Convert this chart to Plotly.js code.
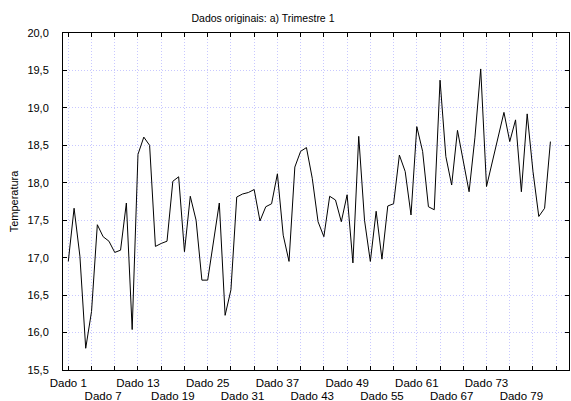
<!DOCTYPE html>
<html>
<head>
<meta charset="utf-8">
<script src="https://cdn.plot.ly/plotly-3.0.1.min.js"></script>
<style>html,body{margin:0;padding:0;background:#fff;}#chart{width:571px;height:401px;}</style>
</head>
<body>
<div id="chart"></div>
<script>
// Temperature values, Dado 1 .. Dado 84
const temperatura = [
  16.95, 17.66, 17.02, 15.79, 16.28, 17.44, 17.28, 17.22, 17.07, 17.10,
  17.73, 16.04, 18.38, 18.61, 18.50, 17.15, 17.19, 17.22, 18.02, 18.08,
  17.08, 17.82, 17.50, 16.70, 16.70, 17.24, 17.73, 16.23, 16.57, 17.81,
  17.85, 17.87, 17.91, 17.49, 17.68, 17.72, 18.12, 17.30, 16.95, 18.21,
  18.42, 18.47, 18.06, 17.48, 17.28, 17.82, 17.77, 17.48, 17.84, 16.93,
  18.62, 17.50, 16.95, 17.62, 16.98, 17.69, 17.72, 18.37, 18.15, 17.57,
  18.75, 18.42, 17.68, 17.64, 19.37, 18.35, 17.97, 18.70, 18.30, 17.88,
  18.60, 19.52, 17.95, 18.28, 18.64, 18.94, 18.55, 18.84, 17.88, 18.92,
  18.15, 17.55, 17.66, 18.55
];
const labelsRow1 = ['Dado 1', 'Dado 13', 'Dado 25', 'Dado 37', 'Dado 49', 'Dado 61', 'Dado 73'];
const labelsRow2 = ['Dado 7', 'Dado 19', 'Dado 31', 'Dado 43', 'Dado 55', 'Dado 67', 'Dado 79'];
const gridCases = [1, 5, 9, 13, 17, 21, 25, 29, 33, 37, 41, 45, 49, 53, 57, 61, 65, 69, 73, 77, 81, 85];
const yTicks = [15.5, 16.0, 16.5, 17.0, 17.5, 18.0, 18.5, 19.0, 19.5, 20.0];

const caseNo = temperatura.map((_, i) => i + 1);
const posOf = arr => arr.map(s => parseInt(s.replace('Dado ', ''), 10));

const xRange = [0.09, 87.2];
const font = {family: 'Liberation Sans, Arial, sans-serif', color: '#000', size: 11};
const gridCol = 'rgb(200,200,255)';

const traces = [
  {x: caseNo, y: temperatura, type: 'scatter', mode: 'lines',
   line: {color: '#000', width: 1}, xaxis: 'x', yaxis: 'y', hoverinfo: 'none'},
  {x: [1], y: [null], type: 'scatter', mode: 'lines', xaxis: 'x2', yaxis: 'y', showlegend: false},
  {x: [1], y: [null], type: 'scatter', mode: 'lines', xaxis: 'x3', yaxis: 'y', showlegend: false}
];

const layout = {
  width: 571, height: 401,
  margin: {l: 63, r: 2, t: 33, b: 31, pad: 0},
  paper_bgcolor: '#fff', plot_bgcolor: '#fff',
  separators: ',.',
  showlegend: false,
  font: font,
  title: {text: 'Dados originais: a) Trimestre 1', font: {size: 10.5, color: '#000', family: font.family},
          x: 263 / 571, xanchor: 'center', y: 1 - 18.5 / 401, yanchor: 'middle', xref: 'container', yref: 'container'},
  xaxis: {
    range: xRange, tickmode: 'array', tickvals: gridCases, ticktext: gridCases.map(() => ''),
    ticks: 'inside', ticklen: 4, tickcolor: '#000', mirror: 'ticks',
    showline: true, linecolor: '#000', linewidth: 1,
    showgrid: true, gridcolor: gridCol, griddash: '1px,2px', gridwidth: 1,
    zeroline: false, fixedrange: true
  },
  xaxis2: {
    overlaying: 'x', anchor: 'y', side: 'bottom', range: xRange,
    tickmode: 'array', tickvals: posOf(labelsRow1), ticktext: labelsRow1,
    ticks: '', showgrid: false, showline: false, zeroline: false,
    tickfont: {size: 11.5, color: '#000'}, ticklabelstandoff: 4
  },
  xaxis3: {
    overlaying: 'x', anchor: 'y', side: 'bottom', range: xRange,
    tickmode: 'array', tickvals: posOf(labelsRow2), ticktext: labelsRow2,
    ticks: '', showgrid: false, showline: false, zeroline: false,
    tickfont: {size: 11.5, color: '#000'}, ticklabelstandoff: 17
  },
  yaxis: {
    range: [15.5, 20.0], tickmode: 'array', tickvals: yTicks, tickformat: '.1f',
    ticks: 'inside', ticklen: 4, tickcolor: '#000', mirror: 'ticks',
    showline: true, linecolor: '#000', linewidth: 1,
    showgrid: true, gridcolor: gridCol, griddash: '1px,2px', gridwidth: 1,
    zeroline: false, tickfont: {size: 11, color: '#000'}, ticklabelstandoff: 11,
    title: {text: 'Temperatura', font: {size: 11, color: '#000'}, standoff: 6}
  }
};

Plotly.newPlot('chart', traces, layout, {staticPlot: true, displayModeBar: false});
</script>
</body>
</html>
